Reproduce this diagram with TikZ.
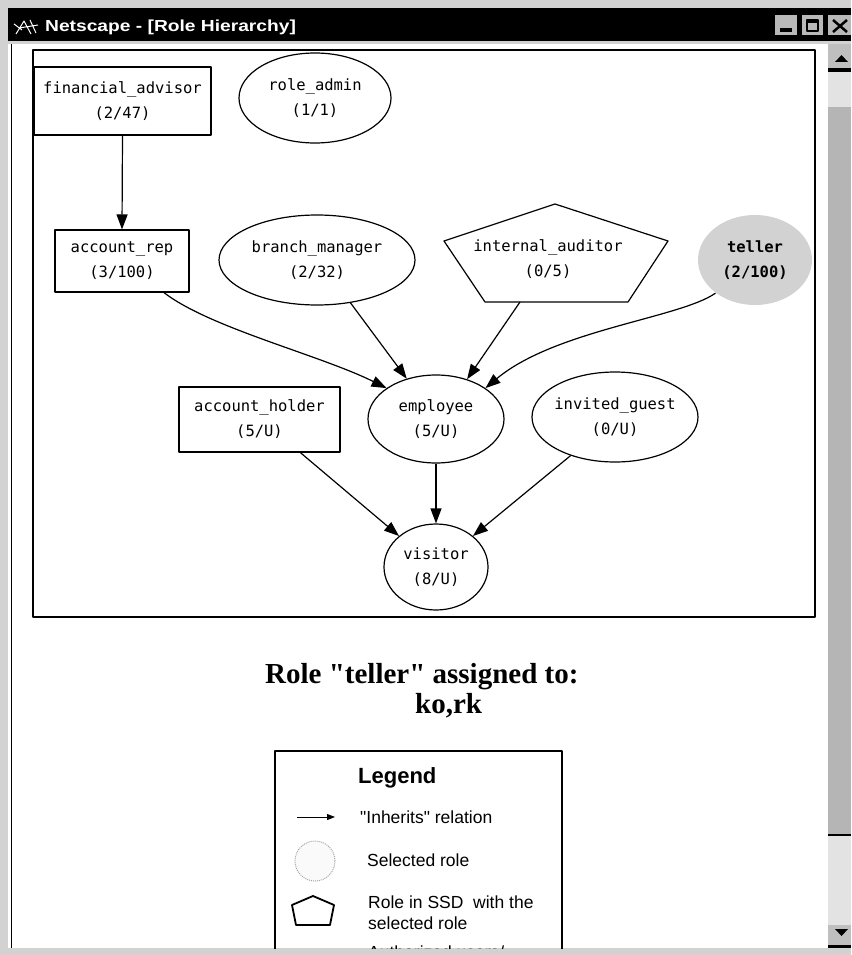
\documentclass[tikz,border=0pt]{standalone}
\usepackage{fontspec}
\usepackage{graphicx}
\usetikzlibrary{shapes.geometric,arrows.meta}
\newfontfamily\gfont{DejaVu Sans Mono}
\newfontfamily\arialf{Liberation Sans}
\newfontfamily\timesf{Liberation Serif}
\newcommand\twoln[2]{\makebox[0pt]{#1}\\\makebox[0pt]{#2}}
\begin{document}
\begin{tikzpicture}[x=1pt,y=-1pt,line join=round,
  gnode/.style={draw,line width=1.2pt,font=\gfont\fontsize{15.5}{25}\selectfont,align=center,inner sep=0pt},
  grect/.style={gnode,rectangle},
  gell/.style={gnode,ellipse},
  arr/.style={line width=1.2pt,-{Triangle[length=15pt,width=11pt]}},
  legtxt/.style={anchor=base west,inner sep=0pt,font=\arialf\fontsize{17.5}{17.5}\selectfont},
  border/.style={fill=gray!35},
  btn/.style={fill=gray!55}]
\useasboundingbox (0,0) rectangle (851,955);
% window background and borders
\fill[border] (0,0) rectangle (851,955);
\fill[white] (8,44) rectangle (828,948);
\draw[line width=1.5pt] (11.5,44) -- (11.5,948);
% title bar
\fill[black] (8,8) rectangle (851,41);
\draw[white,line width=1pt] (16,34) -- (24,21) -- (31,34) (19,28) -- (38,25) (30,20) -- (36,33) (14,24) -- (22,30);
\node[anchor=base west,text=white,inner sep=0pt,font=\arialf\bfseries\fontsize{16}{16}\selectfont] (title) at (45,32) {\scalebox{1.2}[1]{Netscape - [Role Hierarchy]}};
% buttons
\fill[btn] (775,15) rectangle (797,35);
\fill[black] (780,28) rectangle (792,32);
\fill[btn] (802,15) rectangle (823,35);
\draw[line width=1.2pt] (807,20) rectangle (818,31);
\fill[black] (807,20) rectangle (818,23);
\fill[btn] (828,15) rectangle (851,35);
\draw[line width=2.5pt] (833,20) -- (847,32) (847,20) -- (833,32);
% scrollbar
\fill[gray!22] (828,44) rectangle (851,948);
\fill[gray!58] (828,107) rectangle (851,835);
\draw[line width=1.5pt] (828,835) -- (851,835);
\fill[gray!50] (828,44) rectangle (851,68);
\fill[black] (828,68) rectangle (851,72);
\fill[black] (835,62) -- (848,62) -- (841.5,55) -- cycle;
\fill[gray!50] (828,925) rectangle (851,945);
\fill[black] (828,945) rectangle (851,948);
\fill[black] (835,929) -- (848,929) -- (841.5,936) -- cycle;
% graph frame
\draw[line width=2pt] (33,50) rectangle (815,617);
% nodes
\node[grect,minimum width=177pt,minimum height=68pt] (fa) at (122.5,101) {\twoln{financial\_advisor}{(2/47)}};
\node[gell,minimum width=152pt,minimum height=90pt] (ra) at (315,98) {\twoln{role\_admin}{(1/1)}};
\node[grect,minimum width=134pt,minimum height=62pt] (ar) at (122,261) {\twoln{account\_rep}{(3/100)}};
\node[gell,minimum width=196pt,minimum height=90pt] (bm) at (317,260) {\twoln{branch\_manager}{(2/32)}};
\draw[line width=1.2pt] (555,204) -- (668,241) -- (628,302) -- (485,302) -- (444,241) -- cycle;
\node[gnode,draw=none] (ia) at (548,259) {\twoln{internal\_auditor}{(0/5)}};
\coordinate (iab) at (520,302);
\node[gell,draw=none,fill=gray!35,minimum width=114pt,minimum height=90pt,font=\gfont\bfseries\fontsize{15.5}{25}\selectfont] (te) at (755,260) {\twoln{teller}{(2/100)}};
\node[grect,minimum width=161pt,minimum height=65pt] (ah) at (259.5,419.5) {\twoln{account\_holder}{(5/U)}};
\node[gell,minimum width=136pt,minimum height=88pt] (emp) at (436,419) {\twoln{employee}{(5/U)}};
\node[gell,minimum width=166pt,minimum height=90pt] (ig) at (615,417) {\twoln{invited\_guest}{(0/U)}};
\node[gell,minimum width=104pt,minimum height=86pt] (vis) at (436,567) {\twoln{visitor}{(8/U)}};
% connectors
\draw[arr] (fa.south) -- (ar.north);
\draw[arr] (ar.-37) .. controls (210,328) and (320,355) .. (emp.148);
\draw[arr] (bm.-52) -- (emp.126);
\draw[arr] (iab) -- (emp.52);
\draw[arr] (te.-140) .. controls (680,318) and (555,330) .. (emp.32);
\draw[arr] (ah.-39) -- (vis.140);
\draw[arr] (emp.south) -- (vis.north);
\draw[arr] (ig.-139) -- (vis.40);
% assigned text
\node[anchor=base west,inner sep=0pt,font=\timesf\bfseries\fontsize{29}{29}\selectfont] (rt) at (265,683) {Role "teller" assigned to:};
\node[anchor=base west,inner sep=0pt,font=\timesf\bfseries\fontsize{29}{29}\selectfont] (ko) at (415,713) {ko,rk};
% legend
\draw[line width=1.5pt] (275,949) -- (275,751) -- (562,751) -- (562,949);
\node[anchor=base west,inner sep=0pt,font=\arialf\bfseries\fontsize{22}{22}\selectfont] (lg) at (358,783) {Legend};
\coordinate (la1) at (297,817);
\coordinate (la2) at (335,817);
\draw[line width=1pt,-{Triangle[length=8pt,width=6pt]}] (la1) -- (la2);
\node[legtxt] (l1) at (360,823) {"Inherits" relation};
\node[circle,draw=gray!70,densely dotted,line width=1pt,fill=gray!4,minimum size=40pt,inner sep=0pt] (lsel) at (315,861) {};
\node[legtxt] (l2) at (367,866) {Selected role};
\draw[line width=1.8pt] (313,896) -- (334,905) -- (330,925) -- (296,925) -- (292,905) -- cycle;
\node[legtxt] (l3) at (368,908) {Role in SSD\ \ with the};
\node[legtxt] (l4) at (368,929) {selected role};
\node[legtxt] (l5) at (368,958) {Authorized users/};
\fill[border] (0,949) rectangle (828,955);
\end{tikzpicture}
\end{document}
